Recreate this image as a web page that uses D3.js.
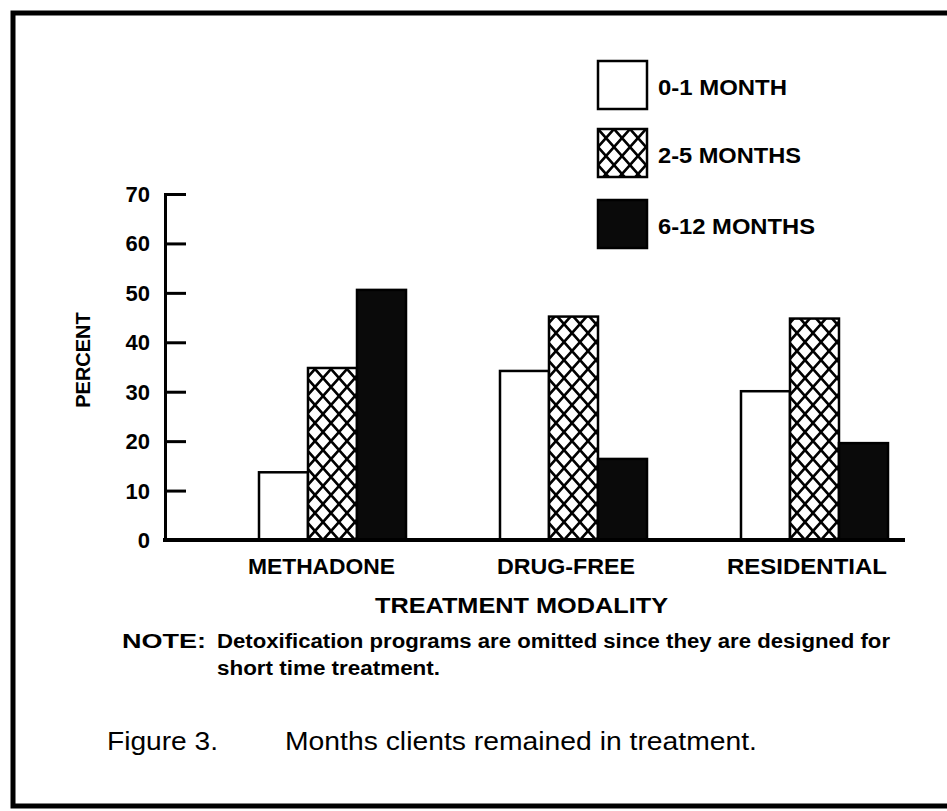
<!DOCTYPE html>
<html>
<head>
<meta charset="utf-8">
<script src="https://cdn.jsdelivr.net/npm/d3@7"></script>
<style>
  html, body { margin: 0; background: #fff; overflow: hidden; }
  svg { display: block; }
  svg text { font-family: "Liberation Sans", Arial, sans-serif; fill: #000; }
</style>
</head>
<body>
<svg id="svg" width="947" height="811"></svg>
<script>
'use strict';

// data
var categories = ['METHADONE', 'DRUG-FREE', 'RESIDENTIAL'];
var series = ['0-1 MONTH', '2-5 MONTHS', '6-12 MONTHS'];
var month01 = [13.7, 34.2, 30.1];
var month25 = [34.8, 45.2, 44.8];
var month612 = [50.6, 16.4, 19.6];
var yTicks = [0, 10, 20, 30, 40, 50, 60, 70];

var values = [month01, month25, month612];
var fills = ['#fff', 'url(#hatch)', '#0a0a0a'];

var svg = d3.select('#svg');

// crosshatch pattern
var defs = svg.append('defs');
var pat = defs.append('pattern')
    .attr('id', 'hatch')
    .attr('patternUnits', 'userSpaceOnUse')
    .attr('width', 16).attr('height', 18);
pat.append('rect').attr('width', 16).attr('height', 18).attr('fill', '#fff');
pat.append('path')
    .attr('d', 'M0,0L16,18M16,0L0,18M-8,9L0,18M8,-9L0,0M16,0L24,-9M16,18L24,9')
    .attr('stroke', '#000').attr('stroke-width', 2.6).attr('fill', 'none');

// frame (open on the right, like the scan)
svg.append('path')
    .attr('d', 'M960,13L13,13L13,806L960,806')
    .attr('fill', 'none').attr('stroke', '#000').attr('stroke-width', 5);

var y = d3.scaleLinear().domain([0, 70]).range([540, 194]);
var x = d3.scaleBand().domain(categories).range([259, 888]).paddingInner(0.39);
var xs = d3.scaleBand().domain(series).range([0, x.bandwidth()]);

// y axis
var yAxis = d3.axisRight(y).tickValues(yTicks).tickSize(21).tickFormat('');
var ya = svg.append('g').attr('transform', 'translate(165,0)').call(yAxis);
ya.select('.domain').attr('stroke', '#000').attr('stroke-width', 3);
ya.selectAll('.tick line').attr('stroke', '#000').attr('stroke-width', 3);

svg.selectAll('.ylab')
    .data(yTicks)
  .enter().append('text')
    .attr('class', 'ylab')
    .attr('x', 150)
    .attr('y', function(d) { return y(d) + 8; })
    .attr('text-anchor', 'end')
    .attr('font-size', 22)
    .attr('font-weight', 'bold')
    .text(function(d) { return d; });

svg.append('text')
    .attr('transform', 'translate(90,360) rotate(-90)')
    .attr('text-anchor', 'middle')
    .attr('font-size', 20)
    .attr('font-weight', 'bold')
    .text('PERCENT');

// bars
var groups = svg.selectAll('.grp')
    .data(categories)
  .enter().append('g')
    .attr('class', 'grp')
    .attr('transform', function(d) { return 'translate(' + x(d) + ',0)'; });

groups.selectAll('rect')
    .data(function(d, i) {
      return series.map(function(s, j) { return {s: s, v: values[j][i], j: j}; });
    })
  .enter().append('rect')
    .attr('x', function(d) { return xs(d.s); })
    .attr('y', function(d) { return y(d.v); })
    .attr('width', xs.bandwidth())
    .attr('height', function(d) { return y(0) - y(d.v); })
    .attr('fill', function(d) { return fills[d.j]; })
    .attr('stroke', '#000')
    .attr('stroke-width', 2.5);

// baseline
svg.append('line')
    .attr('x1', 163).attr('x2', 905)
    .attr('y1', y(0)).attr('y2', y(0))
    .attr('stroke', '#000').attr('stroke-width', 4);

// category labels
var labW = [147, 138, 160];
var labX = [248, 497, 727];
svg.selectAll('.xlab')
    .data(categories)
  .enter().append('text')
    .attr('class', 'xlab')
    .attr('x', function(d, i) { return labX[i]; })
    .attr('y', 574)
    .attr('font-size', 22)
    .attr('font-weight', 'bold')
    .attr('textLength', function(d, i) { return labW[i]; })
    .attr('lengthAdjust', 'spacingAndGlyphs')
    .text(function(d) { return d; });

svg.append('text')
    .attr('x', 375).attr('y', 613)
    .attr('font-size', 22)
    .attr('font-weight', 'bold')
    .attr('textLength', 293)
    .attr('lengthAdjust', 'spacingAndGlyphs')
    .text('TREATMENT MODALITY');

// legend
var leg = svg.selectAll('.leg')
    .data(series)
  .enter().append('g')
    .attr('class', 'leg')
    .attr('transform', function(d, i) { return 'translate(598,' + [61, 129, 200][i] + ')'; });
leg.append('rect')
    .attr('width', 49).attr('height', 48)
    .attr('fill', function(d, i) { return fills[i]; })
    .attr('stroke', '#000').attr('stroke-width', 2.5);
leg.append('text')
    .attr('x', 60).attr('y', 34)
    .attr('font-size', 22)
    .attr('font-weight', 'bold')
    .attr('textLength', function(d, i) { return [129, 143, 157][i]; })
    .attr('lengthAdjust', 'spacingAndGlyphs')
    .text(function(d) { return d; });

// note
svg.append('text')
    .attr('x', 122).attr('y', 648)
    .attr('font-size', 20).attr('font-weight', 'bold')
    .attr('textLength', 84).attr('lengthAdjust', 'spacingAndGlyphs')
    .text('NOTE:');
svg.append('text')
    .attr('x', 217).attr('y', 648)
    .attr('font-size', 20).attr('font-weight', 'bold')
    .attr('textLength', 673).attr('lengthAdjust', 'spacingAndGlyphs')
    .text('Detoxification programs are omitted since they are designed for');
svg.append('text')
    .attr('x', 217).attr('y', 675)
    .attr('font-size', 20).attr('font-weight', 'bold')
    .attr('textLength', 223).attr('lengthAdjust', 'spacingAndGlyphs')
    .text('short time treatment.');

// caption
svg.append('text')
    .attr('x', 107).attr('y', 750)
    .attr('font-size', 26)
    .attr('textLength', 111).attr('lengthAdjust', 'spacingAndGlyphs')
    .text('Figure  3.');
svg.append('text')
    .attr('x', 285).attr('y', 750)
    .attr('font-size', 26)
    .attr('textLength', 472).attr('lengthAdjust', 'spacingAndGlyphs')
    .text('Months clients remained in treatment.');
</script>
</body>
</html>
